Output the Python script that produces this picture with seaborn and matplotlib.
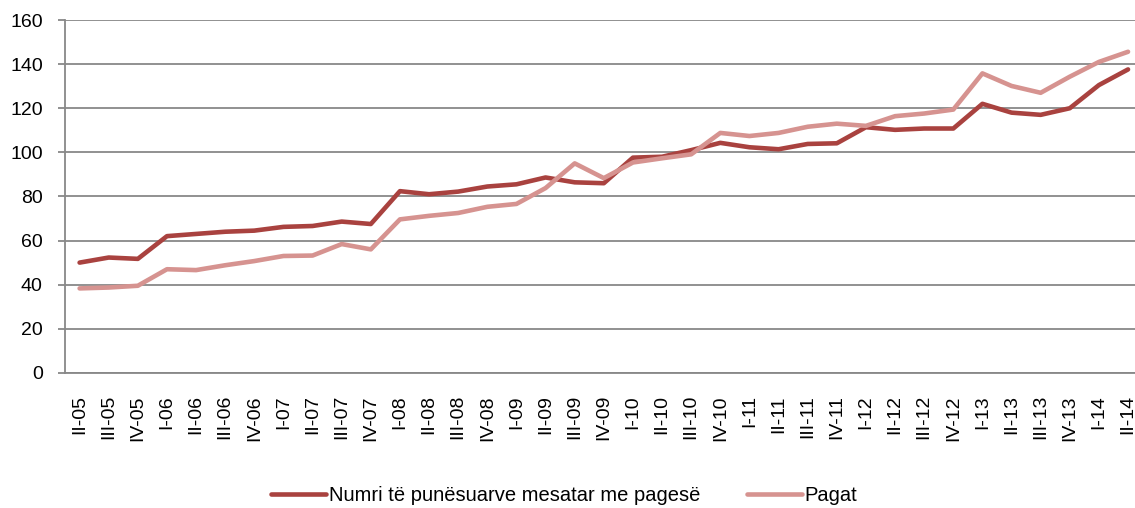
import matplotlib
matplotlib.use("Agg")
import matplotlib.pyplot as plt
from matplotlib.ticker import FixedLocator, MultipleLocator
from matplotlib.lines import Line2D
import seaborn as sns
import pandas as pd

quarters = ["II-05", "III-05", "IV-05",
            "I-06", "II-06", "III-06", "IV-06",
            "I-07", "II-07", "III-07", "IV-07",
            "I-08", "II-08", "III-08", "IV-08",
            "I-09", "II-09", "III-09", "IV-09",
            "I-10", "II-10", "III-10", "IV-10",
            "I-11", "II-11", "III-11", "IV-11",
            "I-12", "II-12", "III-12", "IV-12",
            "I-13", "II-13", "III-13", "IV-13",
            "I-14", "II-14"]

numri = [50.0, 52.3, 51.7, 62.0, 63.0, 64.0, 64.5, 66.2, 66.6, 68.6, 67.5,
         82.4, 81.0, 82.2, 84.5, 85.5, 88.6, 86.4, 86.0,
         97.6, 98.0, 101.0, 104.3, 102.3, 101.4, 103.8, 104.1,
         111.4, 110.2, 110.8, 110.8, 122.0, 118.0, 117.0, 120.0,
         130.5, 137.6]

pagat = [38.3, 38.7, 39.5, 47.0, 46.6, 48.8, 50.7, 53.0, 53.2, 58.4, 56.0,
         69.6, 71.2, 72.5, 75.3, 76.6, 83.8, 95.0, 88.3,
         95.4, 97.3, 99.1, 108.8, 107.4, 108.8, 111.6, 113.0,
         112.0, 116.4, 117.6, 119.4, 135.8, 130.1, 127.0, 134.3,
         141.0, 145.6]

series_names = ["Numri të punësuarve mesatar me pagesë", "Pagat"]
colors = ["#A9423F", "#D69390"]

df = pd.DataFrame({
    "pos": list(range(len(quarters))) * 2,
    "value": numri + pagat,
    "series": [series_names[0]] * len(quarters) + [series_names[1]] * len(quarters),
})

sns.set_theme(style="white")
plt.rcParams["font.family"] = ["Liberation Sans", "DejaVu Sans"]
plt.rcParams["text.color"] = "black"

FS = 14
fig = plt.figure(figsize=(11.35, 5.08), dpi=100)
# axes extends slightly past the right edge of the figure, as in the reference
ax = fig.add_axes([0.0573, 0.266, 0.9494, 0.6946])

sns.lineplot(data=df, x="pos", y="value", hue="series", hue_order=series_names,
             palette=colors, linewidth=3.3, ax=ax, legend=False, sort=False)

ax.set_xlim(-0.5, len(quarters) - 0.5)
ax.set_ylim(0, 160)
ax.yaxis.set_major_locator(MultipleLocator(20))
ax.grid(axis="y", color="#888888", linewidth=1.3)
ax.set_axisbelow(True)

ax.xaxis.set_major_locator(FixedLocator(list(range(len(quarters)))))
ax.set_xticklabels(quarters, rotation=90, fontsize=FS, color="black")
ax.xaxis.set_minor_locator(FixedLocator([i - 0.5 for i in range(len(quarters) + 1)]))
ax.tick_params(axis="x", which="major", length=0, pad=16)
ax.tick_params(axis="x", which="minor", length=5, width=1.3, color="#888888", direction="out")
ax.tick_params(axis="y", which="major", length=5, width=1.3, color="#888888",
               direction="out", labelsize=FS, labelcolor="black", left=True, pad=11)

for side in ["top", "right"]:
    ax.spines[side].set_visible(False)
for side in ["left", "bottom"]:
    ax.spines[side].set_color("#888888")
    ax.spines[side].set_linewidth(1.3)

ax.set_xlabel("")
ax.set_ylabel("")

handles = [Line2D([0], [0], color=c, linewidth=3.3) for c in colors]
fig.legend(handles, series_names, loc="center", bbox_to_anchor=(0.497, 0.024),
           ncol=2, frameon=False, fontsize=14.5, handlelength=2.73,
           handletextpad=0.15, columnspacing=2.3, borderpad=0.0,
           labelcolor="black")

fig.savefig("out.png", dpi=100)
